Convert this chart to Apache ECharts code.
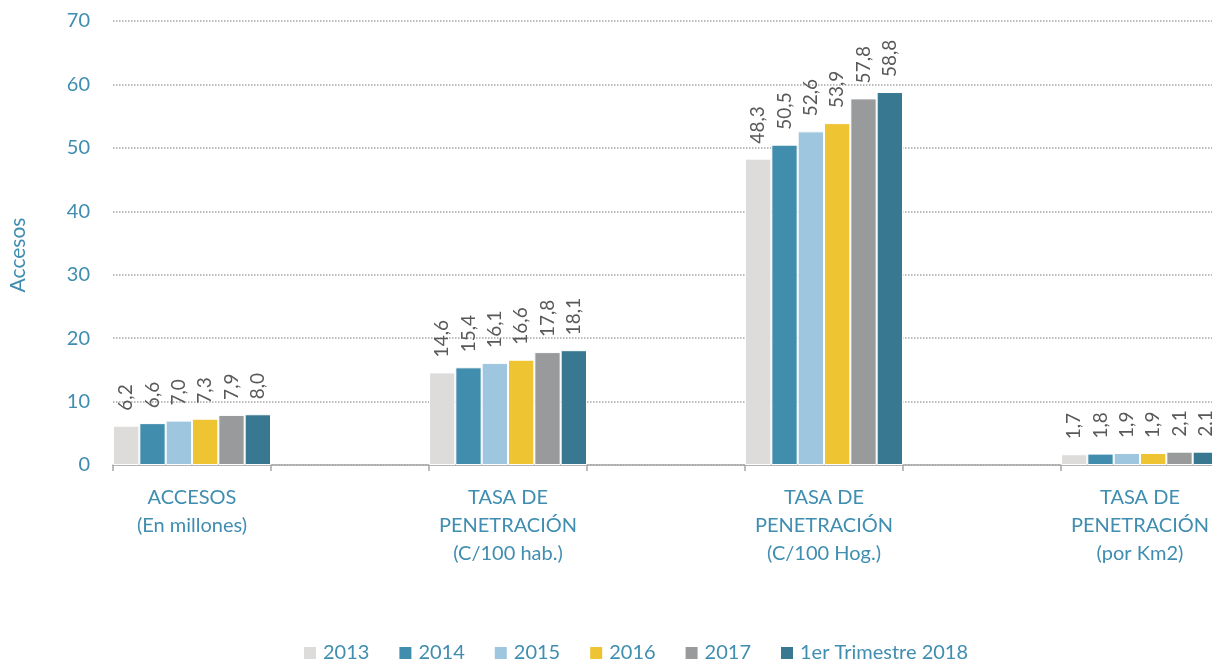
<!DOCTYPE html>
<html>
<head>
<meta charset="utf-8">
<script src="https://cdn.jsdelivr.net/npm/echarts@6/dist/echarts.min.js"></script>
<style>
  html, body { margin: 0; padding: 0; background: #fff; }
  #chart { width: 1212px; height: 661px; }
</style>
</head>
<body>
<div id="chart"></div>
<script>
// categorias del eje x
const categorias = [
  'ACCESOS\n(En millones)',
  'TASA DE\nPENETRACIÓN\n(C/100 hab.)',
  'TASA DE\nPENETRACIÓN\n(C/100 Hog.)',
  'TASA DE\nPENETRACIÓN\n(por Km2)'
]
const anios = ['2013', '2014', '2015', '2016', '2017', '1er Trimestre 2018']
const colores = ['#DDDCDB', '#418DAE', '#9FC6DF', '#EEC432', '#989A9C', '#387891']

// valores por año, en el orden de las categorias
const v2013 = [6.2, 14.6, 48.3, 1.7]
const v2014 = [6.6, 15.4, 50.5, 1.8]
const v2015 = [7.0, 16.1, 52.6, 1.9]
const v2016 = [7.3, 16.6, 53.9, 1.9]
const v2017 = [7.9, 17.8, 57.8, 2.1]
const v2018 = [8.0, 18.1, 58.8, 2.1]
const valores = [v2013, v2014, v2015, v2016, v2017, v2018]

const azul = '#3F8DB0'
const fuente = 'Lato'

// cada categoria ocupa un hueco y deja otro vacio a su derecha
const ejeX = []
categorias.forEach(c => { ejeX.push(c); ejeX.push('') })

function intercalar(arr) {
  let out = []
  arr.forEach(v => { out.push(v); out.push(null) })
  return out
}

let series = anios.map((a, i) => ({
  name: a,
  type: 'bar',
  data: intercalar(valores[i]),
  barGap: '0%',
  barCategoryGap: '0%',
  itemStyle: { color: colores[i], borderColor: '#fff', borderWidth: 1 },
  label: {
    show: true,
    position: 'top',
    rotate: 90,
    align: 'left',
    verticalAlign: 'middle',
    distance: 15,
    color: '#595959',
    fontFamily: fuente,
    fontSize: 19,
    formatter: p => p.value == null ? '' : p.value.toFixed(1).replace('.', ',')
  }
}))

let option = {
  animation: false,
  grid: { left: 113, top: 21, bottom: 196, width: 1264, outerBoundsMode: 'none' },
  legend: {
    data: anios,
    left: 297,
    top: 638,
    icon: 'rect',
    itemWidth: 14,
    itemHeight: 14,
    itemGap: 28,
    textStyle: { color: azul, fontFamily: fuente, fontSize: 20, padding: [0, 0, 0, 1] }
  },
  xAxis: {
    type: 'category',
    data: ejeX,
    axisLine: { lineStyle: { color: '#A6A6A6', width: 1.5 } },
    axisTick: { show: true, interval: 0, length: 6, lineStyle: { color: '#A6A6A6', width: 1.5 } },
    axisLabel: {
      interval: 0,
      margin: 19,
      color: azul,
      fontFamily: fuente,
      fontSize: 20,
      lineHeight: 28
    }
  },
  yAxis: {
    type: 'value',
    min: 0,
    max: 70,
    interval: 10,
    name: 'Accesos',
    nameLocation: 'middle',
    nameGap: 84,
    nameTextStyle: { color: azul, fontFamily: fuente, fontSize: 21, padding: [0, 0, 0, -24] },
    axisLine: { show: false },
    axisTick: { show: false },
    axisLabel: { margin: 23, color: azul, fontFamily: fuente, fontSize: 20 },
    splitLine: { lineStyle: { type: 'dotted', color: '#A6A6A6', width: 1.5 } }
  },
  series: series
}

var myChart = echarts.init(document.getElementById('chart'), null, { renderer: 'canvas' })
myChart.setOption(option, true)
</script>
</body>
</html>
